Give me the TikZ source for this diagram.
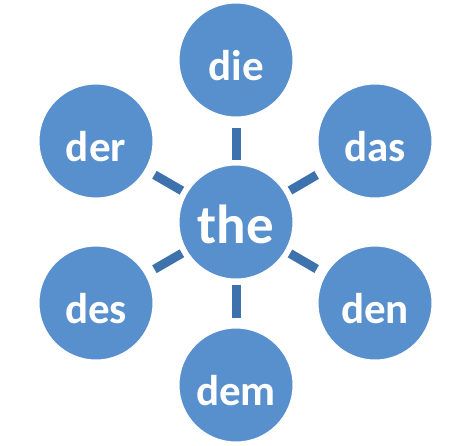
\documentclass[tikz,border=0pt]{standalone}
\usepackage{fontspec}
\setmainfont{Carlito}
\usepackage{tikz}
\definecolor{circblue}{RGB}{88,143,205}
\definecolor{spokeblue}{RGB}{62,114,172}
\tikzset{
  word/.style={circle, fill=circblue, draw=white, line width=1pt, minimum size=114pt, inner sep=0pt, text=white, font=\fontsize{43}{43}\selectfont\bfseries, text height=40pt, text depth=0pt},
  spoke/.style={draw=spokeblue, line width=9pt, shorten <=5pt, shorten >=10pt}
}

\begin{document}
\begin{tikzpicture}[x=1pt,y=-1pt]
\useasboundingbox (0,0) rectangle (460,445);
\node[word, font=\fontsize{55}{55}\selectfont\bfseries, text height=42pt](T) at (236,222) {the};

\node[word](W1) at (236,60) {die};
\node[word](W2) at (375,141) {das};
\node[word](W3) at (375,303) {den};
\node[word](W4) at (236,385) {dem};
\node[word](W5) at (96,303) {des};
\node[word](W6) at (96,141) {der};

\draw[spoke](T) to (W1);
\draw[spoke](T) to (W2);
\draw[spoke](T) to (W3);
\draw[spoke](T) to (W4);
\draw[spoke](T) to (W5);
\draw[spoke](T) to (W6);
\end{tikzpicture}
\end{document}
